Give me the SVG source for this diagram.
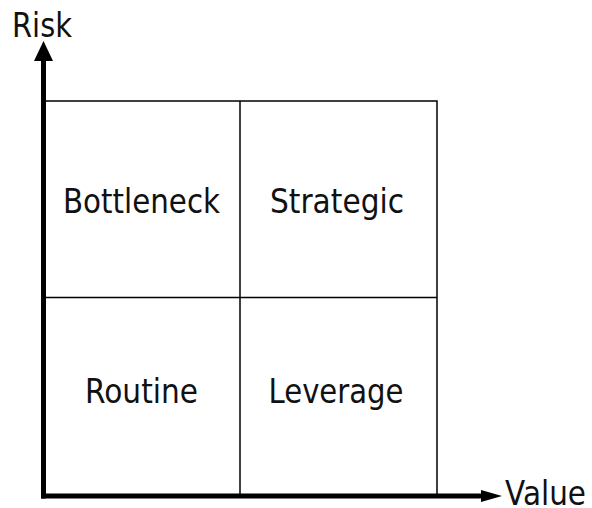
<svg xmlns="http://www.w3.org/2000/svg" width="592" height="508" viewBox="0 0 592 508">
  <style>
    .grid { fill: none; stroke: #000; stroke-width: 1.5; }
    .axis { fill: none; stroke: #000; stroke-width: 5; }
    .label { font-family: "DejaVu Sans", "Liberation Sans", sans-serif; font-size: 33px; fill: #111; }
    .mid { text-anchor: middle; }
  </style>
  <defs>
    <marker id="arrow-up" markerUnits="userSpaceOnUse" markerWidth="22" markerHeight="22" refX="0" refY="11" orient="auto" viewBox="0 0 22 22">
      <path d="M0,1.5 L20,11 L0,20.5 Z" fill="#000"/>
    </marker>
    <marker id="arrow-right" markerUnits="userSpaceOnUse" markerWidth="22" markerHeight="14" refX="0" refY="7" orient="auto" viewBox="0 0 22 14">
      <path d="M0,1 L21,7 L0,13 Z" fill="#000"/>
    </marker>
  </defs>

  <!-- quadrant grid -->
  <g id="quadrants">
    <rect class="grid" x="43" y="101" width="394" height="395"/>
    <line class="grid" x1="240" y1="101" x2="240" y2="496"/>
    <line class="grid" x1="43" y1="297.5" x2="437" y2="297.5"/>
  </g>

  <g id="bottleneck"><text class="label mid" x="141.5" y="213" textLength="157" lengthAdjust="spacingAndGlyphs">Bottleneck</text></g>
  <g id="strategic"><text class="label mid" x="337" y="213" textLength="134" lengthAdjust="spacingAndGlyphs">Strategic</text></g>
  <g id="routine"><text class="label mid" x="141.5" y="403" textLength="113" lengthAdjust="spacingAndGlyphs">Routine</text></g>
  <g id="leverage"><text class="label mid" x="336" y="403" textLength="135" lengthAdjust="spacingAndGlyphs">Leverage</text></g>

  <!-- axes -->
  <g id="connectors">
    <line class="axis" x1="43.5" y1="498.5" x2="43.5" y2="61" marker-end="url(#arrow-up)"/>
    <line class="axis" x1="41" y1="496" x2="481" y2="496" marker-end="url(#arrow-right)"/>
  </g>

  <g id="risk-label"><text class="label" x="12" y="37" textLength="60" lengthAdjust="spacingAndGlyphs">Risk</text></g>
  <g id="value-label"><text class="label" x="505" y="505" textLength="81" lengthAdjust="spacingAndGlyphs">Value</text></g>
</svg>
